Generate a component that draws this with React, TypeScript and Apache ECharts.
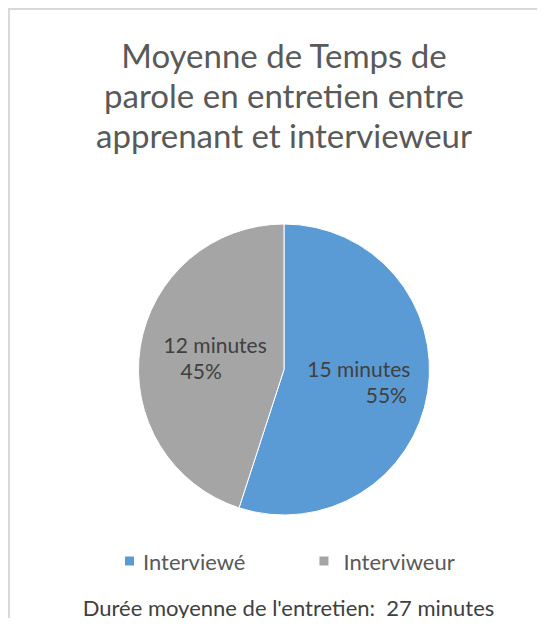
import React, { useEffect, useRef } from "react";
import * as echarts from "echarts";

const titleLines = ["Moyenne de Temps de", "parole en entretien entre", "apprenant et intervieweur"];
const categories = ["Interviewé", "Interviweur"];
const minutes = [15, 12];
const percents = [55, 45];
const colors = ["#5B9BD5", "#A5A5A5"];
const totalMinutes = 27;
const footerLabel = "Durée moyenne de l'entretien:";

const FONT = "Lato, 'Open Sans', sans-serif";

export default function App() {
  const ref = useRef<HTMLDivElement>(null);
  useEffect(() => {
    if (!ref.current) return;
    const chart = echarts.init(ref.current, null, { renderer: "svg" });
    const cx = 276;
    const cy = 361.5;
    const base = { fontSize: 21, color: "#404040", fontFamily: FONT, lineHeight: 26 };
    chart.setOption({
      animation: false,
      backgroundColor: "#ffffff",
      color: colors,
      textStyle: { fontFamily: FONT },
      legend: {
        left: 115,
        top: 542,
        padding: 0,
        itemWidth: 11,
        itemHeight: 11,
        itemGap: 72,
        icon: "rect",
        textStyle: { fontSize: 22, color: "#595959", fontFamily: FONT },
        data: [
          { name: categories[0], textStyle: { padding: [0, 0, 0, 3] } },
          { name: categories[1], textStyle: { padding: [0, 0, 0, 9] } },
        ],
      },
      graphic: [
        { type: "line", shape: { x1: 0, y1: 1, x2: 537, y2: 1 }, style: { stroke: "#d9d9d9", lineWidth: 2 } },
        { type: "line", shape: { x1: 1, y1: 0, x2: 1, y2: 618 }, style: { stroke: "#d9d9d9", lineWidth: 2 } },
        ...titleLines.map((t, i) => ({
          type: "text",
          x: 276,
          y: 47 + i * 40,
          style: {
            text: t,
            fontSize: 33,
            fontFamily: FONT,
            fill: "#595959",
            align: "center",
            verticalAlign: "middle",
            textAlign: "center",
            textVerticalAlign: "middle",
          },
        })),
        {
          type: "text",
          x: 280.5,
          y: 599,
          style: {
            text: `${footerLabel}  ${totalMinutes} minutes`,
            fontSize: 22,
            fontFamily: FONT,
            fill: "#404040",
            align: "center",
            verticalAlign: "middle",
            textAlign: "center",
            textVerticalAlign: "middle",
          },
        },
      ],
      series: [
        {
          type: "pie",
          center: [cx, cy],
          radius: [0, 145.5],
          startAngle: 90,
          clockwise: true,
          itemStyle: { borderColor: "#ffffff", borderWidth: 1 },
          label: {
            show: true,
            position: "inside",
            ...base,
            formatter: (p: any) => {
              const i = p.dataIndex;
              return i === 0
                ? `{a0|${minutes[i]} minutes}\n{r|${percents[i]}%}`
                : `{a1|${minutes[i]} minutes}\n{l|${percents[i]}%}`;
            },
            rich: {
              a0: { ...base },
              a1: { ...base, padding: [0, 0, 0, 12] },
              r: { ...base, padding: [0, 0, 0, 55] },
              l: { ...base, padding: [0, 16, 0, 0] },
            },
          },
          labelLine: { show: false },
          emphasis: { disabled: true },
          data: categories.map((name, i) => ({ name, value: percents[i] })),
        },
      ],
    });
    return () => chart.dispose();
  }, []);
  return <div ref={ref} style={{ width: 537, height: 618, marginBottom: -8 }} />;
}
